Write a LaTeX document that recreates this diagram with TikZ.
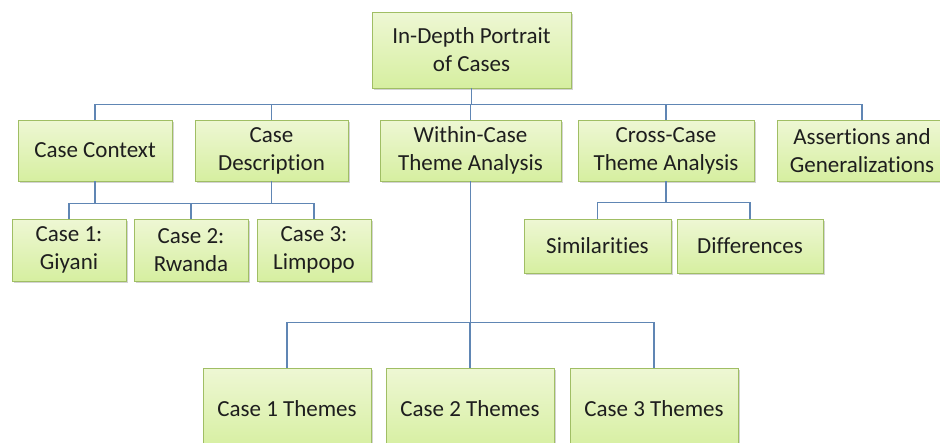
\documentclass[tikz,border=0pt]{standalone}
\usepackage{fontspec}
\setmainfont[RawFeature={-liga;-clig;-dlig;-calt}]{Carlito}
\usetikzlibrary{shadows}
\definecolor{boxtop}{RGB}{238,247,212}
\definecolor{boxbot}{RGB}{214,239,160}
\definecolor{boxline}{RGB}{160,190,100}
\definecolor{linkblue}{RGB}{96,134,180}
\definecolor{boxtext}{RGB}{30,30,30}
\begin{document}
\begin{tikzpicture}[x=1pt,y=-1pt,
  box/.style={draw=boxline,line width=0.8pt,top color=boxtop,bottom color=boxbot,
    inner sep=0pt,align=center,text=boxtext,font=\fontsize{23}{28}\selectfont,
    drop shadow={shadow xshift=1.5pt,shadow yshift=-2pt,opacity=0.35}},
  link/.style={draw=linkblue,line width=1.1pt}]
\useasboundingbox (0,0) rectangle (940,442);
% the root
\node[box,minimum width=199pt,minimum height=76pt] (top) at (471.5,50) {In-Depth Portrait\\of Cases};
% first level
\node[box,minimum width=154pt,minimum height=61pt] (ctx) at (95,150.5) {Case Context};
\node[box,minimum width=153pt,minimum height=61pt] (desc) at (271.5,150.5) {Case\\Description};
\node[box,minimum width=181pt,minimum height=61pt] (within) at (470.5,150.5) {Within-Case\\Theme Analysis};
\node[box,minimum width=176pt,minimum height=61pt] (cross) at (666,150.5) {Cross-Case\\Theme Analysis};
\node[box,minimum width=170pt,minimum height=61pt] (assert) at (862,150.5) {Assertions and\\Generalizations};
% the cases
\node[box,minimum width=114pt,minimum height=62pt] (case1) at (69,250) {Case 1:\\Giyani};
\node[box,minimum width=114pt,minimum height=62pt] (case2) at (191,250) {Case 2:\\Rwanda};
\node[box,minimum width=114pt,minimum height=62pt] (case3) at (314,250) {Case 3:\\Limpopo};
% cross-case branches
\node[box,minimum width=147pt,minimum height=54pt] (sim) at (597.5,246) {Similarities};
\node[box,minimum width=146pt,minimum height=54pt] (diff) at (750,246) {Differences};
% themes
\node[box,minimum width=168pt,minimum height=82pt] (theme1) at (287,409) {Case 1 Themes};
\node[box,minimum width=168pt,minimum height=82pt] (theme2) at (470,409) {Case 2 Themes};
\node[box,minimum width=168pt,minimum height=82pt] (theme3) at (654,409) {Case 3 Themes};
% connectors
\foreach \n in {ctx,desc,within,cross,assert}
  \draw[link] (top.south) -- ++(0,16) -| (\n.north);
\foreach \p in {ctx,desc}
  \foreach \c in {case1,case2,case3}
    \draw[link] (\p.south) -- ++(0,22) -| (\c.north);
\foreach \c in {sim,diff}
  \draw[link] (cross.south) -- ++(0,21) -| (\c.north);
\foreach \c in {theme1,theme2,theme3}
  \draw[link] (within.south) -- ++(0,141) -| (\c.north);
\end{tikzpicture}
\end{document}
